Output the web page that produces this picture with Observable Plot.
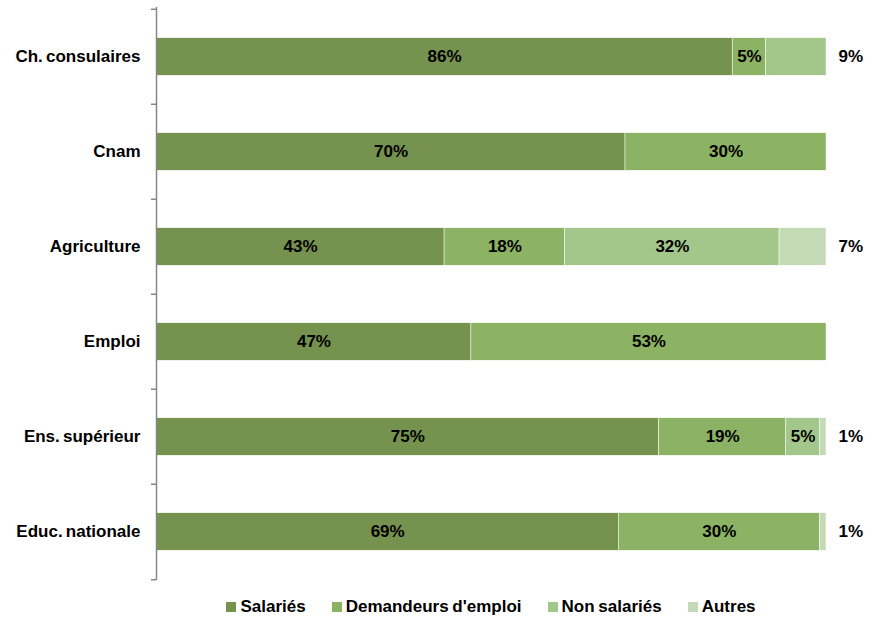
<!DOCTYPE html>
<html><head><meta charset="utf-8">
<script src="https://cdn.jsdelivr.net/npm/d3@7"></script>
<script src="https://cdn.jsdelivr.net/npm/@observablehq/plot@0.6"></script>
<style>
body{margin:0;background:#fff;font-family:"Liberation Sans",Arial,sans-serif;}
#legend{display:flex;justify-content:center;align-items:center;gap:26px;padding-left:156px;padding-right:47px;height:34px;font-weight:bold;font-size:17px;color:#000;word-spacing:-1px;}
#legend span.item{display:inline-flex;align-items:center;}
.sw{display:inline-block;width:10px;height:10px;margin-right:4px;}
svg text{word-spacing:-1.5px;}
</style></head><body><div id="chart"></div><div id="legend"></div>
<script>
const categories = ["Ch. consulaires","Cnam","Agriculture","Emploi","Ens. supérieur","Educ. nationale"];
const series = ["Salariés","Demandeurs d'emploi","Non salariés","Autres"];
const salaries    = [86,70,43,47,75,69];
const demandeurs  = [5,30,18,53,19,30];
const nonSalaries = [9,0,32,0,5,0];
const autres      = [0,0,7,0,1,1];
const outsideSeries = ["Non salariés",null,"Autres",null,"Autres","Autres"];
const colors = ["#76924f","#8bb363","#a3c78a","#c4dab6"];

const valuesBySeries = [salaries, demandeurs, nonSalaries, autres];
const rows = [];
categories.forEach((cat, i) => {
  series.forEach((s, j) => {
    const v = valuesBySeries[j][i];
    rows.push({cat, series: s, value: v, inside: v > 0 && outsideSeries[i] !== s});
  });
});
const outRows = categories.map((cat, i) => {
  const s = outsideSeries[i];
  if (!s) return null;
  const j = series.indexOf(s);
  const total = valuesBySeries.reduce((a, arr) => a + arr[i], 0);
  return {cat, total, label: valuesBySeries[j][i] + "%"};
}).filter(Boolean);

const W = 873, H = 590, mT = 7, mB = 10, mL = 156, mR = 47;
const step = (H - mT - mB) / categories.length;
const barH = 38;
const inset = (step - barH) / 2;
const font = '"Liberation Sans",Arial,sans-serif';

const chart = Plot.plot({
  width: W, height: H,
  marginTop: mT, marginBottom: mB, marginLeft: mL, marginRight: mR,
  x: {domain: [0, 100], axis: null},
  y: {domain: categories, padding: 0, label: null, axis: null},
  color: {domain: series, range: colors},
  style: {fontFamily: font, fontSize: "17px", fontWeight: "bold", color: "#000", background: "#fff", overflow: "visible"},
  marks: [
    Plot.barX(rows, Plot.stackX({x: "value", y: "cat", fill: "series", order: series, insetTop: inset, insetBottom: inset, stroke: "#fff", strokeWidth: 0.5})),
    Plot.text(rows, Plot.stackX({x: "value", y: "cat", z: "series", order: series, text: d => d.inside ? d.value + "%" : null, fill: "#000", fontSize: 17})),
    Plot.text(outRows, {x: "total", y: "cat", text: "label", dx: 12, textAnchor: "start", fill: "#000", fontSize: 17}),
    Plot.axisY({tickSize: 0, tickPadding: 16, fontSize: 17, fill: "#000"}),
    Plot.ruleX([0], {stroke: "#868686", strokeWidth: 1.5}),
    Plot.ruleY(categories, {y: d => d, x1: 0, x2: 0, insetLeft: -5, dy: -step / 2, stroke: "#868686", strokeWidth: 1.5}),
    Plot.ruleY(categories.slice(-1), {y: d => d, x1: 0, x2: 0, insetLeft: -5, dy: step / 2, stroke: "#868686", strokeWidth: 1.5})
  ]
});
document.getElementById("chart").appendChild(chart);

const legend = document.getElementById("legend");
series.forEach((s, j) => {
  const item = document.createElement("span");
  item.className = "item";
  const sw = document.createElement("span");
  sw.className = "sw";
  sw.style.background = colors[j];
  item.appendChild(sw);
  item.appendChild(document.createTextNode(s));
  legend.appendChild(item);
});
</script></body></html>
